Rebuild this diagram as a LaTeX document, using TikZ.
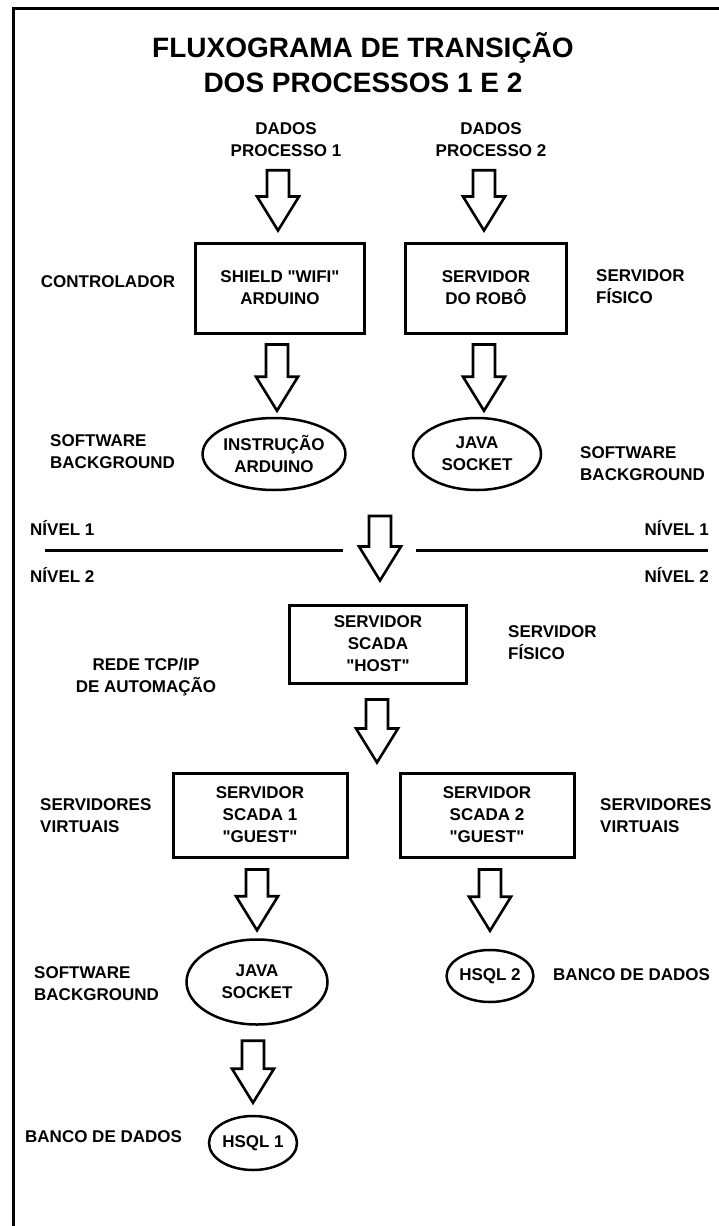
\documentclass[tikz,border=0pt]{standalone}
\usepackage{fontspec}
\setmainfont{Liberation Sans}
\usetikzlibrary{calc,shapes.geometric}

% hollow block arrow pointing down: #1 = top of shaft, #2 = tip (x taken from #1)
\newcommand{\fatarrow}[2]{%
  \draw[fatarrow] let \p1=(#1), \p2=(#2) in
    (\x1-11pt,\y1) -- (\x1+11pt,\y1) -- (\x1+11pt,\y2+34pt) -- (\x1+21pt,\y2+34pt)
    -- (\x1,\y2) -- (\x1-21pt,\y2+34pt) -- (\x1-11pt,\y2+34pt) -- cycle;}
\newcommand{\q}{\textquotedbl}

\begin{document}
\begin{tikzpicture}[x=1pt,y=-1pt,
  every node/.style={font=\bfseries\fontsize{17}{22}\selectfont, inner sep=0pt},
  titletext/.style={font=\bfseries\fontsize{28}{35}\selectfont, align=center},
  lbl/.style={align=center},
  lbll/.style={align=left, anchor=west},
  box/.style={draw, line width=3pt, align=center},
  oval/.style={draw, ellipse, line width=2.5pt, align=center},
  fatarrow/.style={draw, line width=2.6pt, line join=miter, fill=white},
  levelline/.style={line width=3pt}]

\useasboundingbox (0,0) rectangle (719,1226);
\draw[line width=3pt] (13.5,1226) -- (13.5,8.5) -- (719,8.5);

% title
\node[titletext] (title) at (363,63) {FLUXOGRAMA DE TRANSIÇÃO\\DOS PROCESSOS 1 E 2};

% level 1: inputs
\node[lbl] (dados1) at (286,140) {DADOS\\PROCESSO 1};
\node[lbl] (dados2) at (491,140) {DADOS\\PROCESSO 2};

\node[box, minimum width=169, minimum height=90] (shield) at (280,288) {SHIELD \q WIFI\q\\ARDUINO};
\node[box, minimum width=161, minimum height=90] (robo) at (486,288) {SERVIDOR\\DO ROBÔ};
\node[lbl] (contr) at (108,282) {CONTROLADOR};
\node[lbll] (fis1) at (596,287) {SERVIDOR\\FÍSICO};

\node[oval, minimum width=138, minimum height=72] (instr) at (274,454) {INSTRUÇÃO\\ARDUINO};
\node[oval, minimum width=128, minimum height=72] (java1) at (477,454) {JAVA\\SOCKET};
\node[lbll] (sw1) at (50,452) {SOFTWARE\\BACKGROUND};
\node[lbll] (sw2) at (580,464) {SOFTWARE\\BACKGROUND};

\fatarrow{$(dados1.south)+(-8,13)$}{$(shield.north)+(0,-11)$}
\fatarrow{$(dados2.south)+(-7,13)$}{$(robo.north)+(0,-11)$}
\fatarrow{$(shield.south)+(-3,10)$}{$(instr.north)+(0,-6)$}
\fatarrow{$(robo.south)+(-2,10)$}{$(java1.north)+(0,-6)$}

% level separation
\node[lbll] (n1l) at (30,528) {NÍVEL 1};
\node[lbll] (n2l) at (30,575) {NÍVEL 2};
\node[anchor=east] (n1r) at (709,528) {NÍVEL 1};
\node[anchor=east] (n2r) at (709,575) {NÍVEL 2};
\coordinate (lineL) at (45,550);
\coordinate (lineLe) at (343,550);
\coordinate (lineR) at (416,550);
\coordinate (lineRe) at (708,550);
\draw[levelline] (lineL) -- (lineLe);
\draw[levelline] (lineR) -- (lineRe);

% level 2: automation network
\node[box, minimum width=177, minimum height=78] (host) at (378,644) {SERVIDOR\\SCADA\\\q HOST\q};
\node[lbll] (fis2) at (508,643) {SERVIDOR\\FÍSICO};
\node[lbl] (rede) at (146,677) {REDE TCP/IP\\DE AUTOMAÇÃO};

\coordinate (mid1) at (380,516);
\fatarrow{mid1}{$(host.north)+(0,-23)$}

\node[box, minimum width=174, minimum height=84] (sc1) at (260,815) {SERVIDOR\\SCADA 1\\\q GUEST\q};
\node[box, minimum width=174, minimum height=84] (sc2) at (487,815) {SERVIDOR\\SCADA 2\\\q GUEST\q};
\node[lbll] (virt1) at (40,816) {SERVIDORES\\VIRTUAIS};
\node[lbll] (virt2) at (600,816) {SERVIDORES\\VIRTUAIS};

\fatarrow{$(host.south)+(-1,15)$}{$(sc1.north)+(0,-9)$}

\node[oval, minimum width=141, minimum height=85] (java2) at (257,982) {JAVA\\SOCKET};
\node[lbll] (sw3) at (34,984) {SOFTWARE\\BACKGROUND};
\node[oval, minimum width=85, minimum height=52] (hsql2) at (490,976) {HSQL 2};
\node[lbll] (banco2) at (553,975) {BANCO DE DADOS};

\fatarrow{$(sc1.south)+(-3,11)$}{$(java2.north)+(0,-8)$}
\fatarrow{$(sc2.south)+(3,11)$}{$(hsql2.north)+(0,-18)$}

\node[oval, minimum width=88, minimum height=54] (hsql1) at (253,1143) {HSQL 1};
\node[lbll] (banco1) at (25,1137) {BANCO DE DADOS};

\fatarrow{$(java2.south)+(-4,15)$}{$(hsql1.north)+(0,-12)$}

\end{tikzpicture}
\end{document}
